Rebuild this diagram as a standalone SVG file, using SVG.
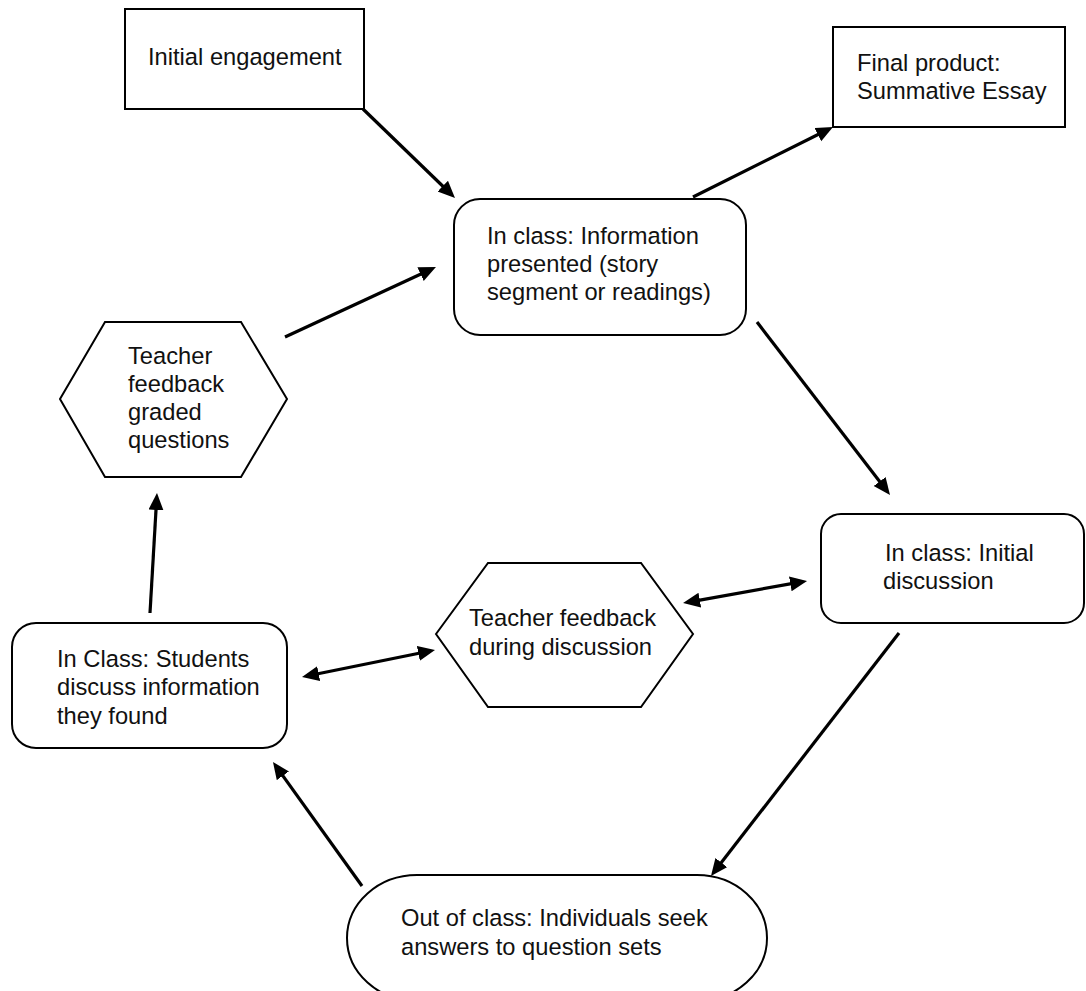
<svg xmlns="http://www.w3.org/2000/svg" width="1086" height="991" viewBox="0 0 1086 991">
<style>
.shape{fill:#fff;stroke:#000;stroke-width:2}
.lbl{font-family:"Liberation Sans",Arial,sans-serif;font-size:23.7px;fill:#111}
.conn{stroke:#000;stroke-width:3.2;fill:none;marker-end:url(#ah)}
.both{marker-start:url(#ah)}
</style>
<defs>
<marker id="ah" markerUnits="userSpaceOnUse" markerWidth="18" markerHeight="16" refX="7" refY="7.5" orient="auto-start-reverse" viewBox="0 0 18 16">
<path d="M0,0 L17,7.5 L0,15 z" fill="#000"/>
</marker>
</defs>
<rect width="1086" height="991" fill="#fff"/>
<g id="connectors">
<line class="conn" x1="363" y1="109" x2="447.8" y2="191"/>
<line class="conn" x1="693" y1="197" x2="824.1" y2="131.5"/>
<line class="conn" x1="285" y1="337" x2="426.9" y2="271.2"/>
<line class="conn" x1="757" y1="322" x2="883.9" y2="487.1"/>
<line class="conn" x1="899" y1="633" x2="717.1" y2="868.1"/>
<line class="conn" x1="362" y1="886" x2="278.8" y2="770.1"/>
<line class="conn" x1="150" y1="613" x2="156.4" y2="503"/>
<line class="conn both" x1="692.9" y1="601.3" x2="797.2" y2="582.7"/>
<line class="conn both" x1="311.8" y1="675" x2="425.2" y2="652"/>
</g>
<g id="initial-engagement">
<rect class="shape" x="125" y="9" width="239" height="100"/>
<text class="lbl" x="148" y="65">Initial engagement</text>
</g>
<g id="final-product">
<rect class="shape" x="833" y="27" width="232" height="100"/>
<text class="lbl" x="857" y="71">Final product:</text>
<text class="lbl" x="857" y="99">Summative Essay</text>
</g>
<g id="in-class-information">
<rect class="shape" x="454" y="199" width="292" height="136" rx="26" ry="26"/>
<text class="lbl" x="487" y="244">In class: Information</text>
<text class="lbl" x="487" y="272">presented (story</text>
<text class="lbl" x="487" y="300">segment or readings)</text>
</g>
<g id="teacher-feedback-graded">
<polygon class="shape" points="60,399 105,322 241,322 287,399 241,477 105,477"/>
<text class="lbl" x="128" y="364">Teacher</text>
<text class="lbl" x="128" y="392">feedback</text>
<text class="lbl" x="128" y="420">graded</text>
<text class="lbl" x="128" y="448">questions</text>
</g>
<g id="in-class-initial-discussion">
<rect class="shape" x="821" y="514" width="263" height="109" rx="20" ry="20"/>
<text class="lbl" x="885" y="561">In class: Initial</text>
<text class="lbl" x="883" y="589">discussion</text>
</g>
<g id="teacher-feedback-discussion">
<polygon class="shape" points="436,634 488,563 641,563 693,634 641,707 488,707"/>
<text class="lbl" x="469" y="626">Teacher feedback</text>
<text class="lbl" x="469" y="655">during discussion</text>
</g>
<g id="in-class-students">
<rect class="shape" x="12" y="623" width="275" height="125" rx="24" ry="24"/>
<text class="lbl" x="57" y="667">In Class: Students</text>
<text class="lbl" x="57" y="695">discuss information</text>
<text class="lbl" x="57" y="724">they found</text>
</g>
<g id="out-of-class">
<rect class="shape" x="347" y="875" width="420" height="126" rx="70" ry="63"/>
<text class="lbl" x="401" y="926">Out of class: Individuals seek</text>
<text class="lbl" x="401" y="955">answers to question sets</text>
</g>
</svg>
